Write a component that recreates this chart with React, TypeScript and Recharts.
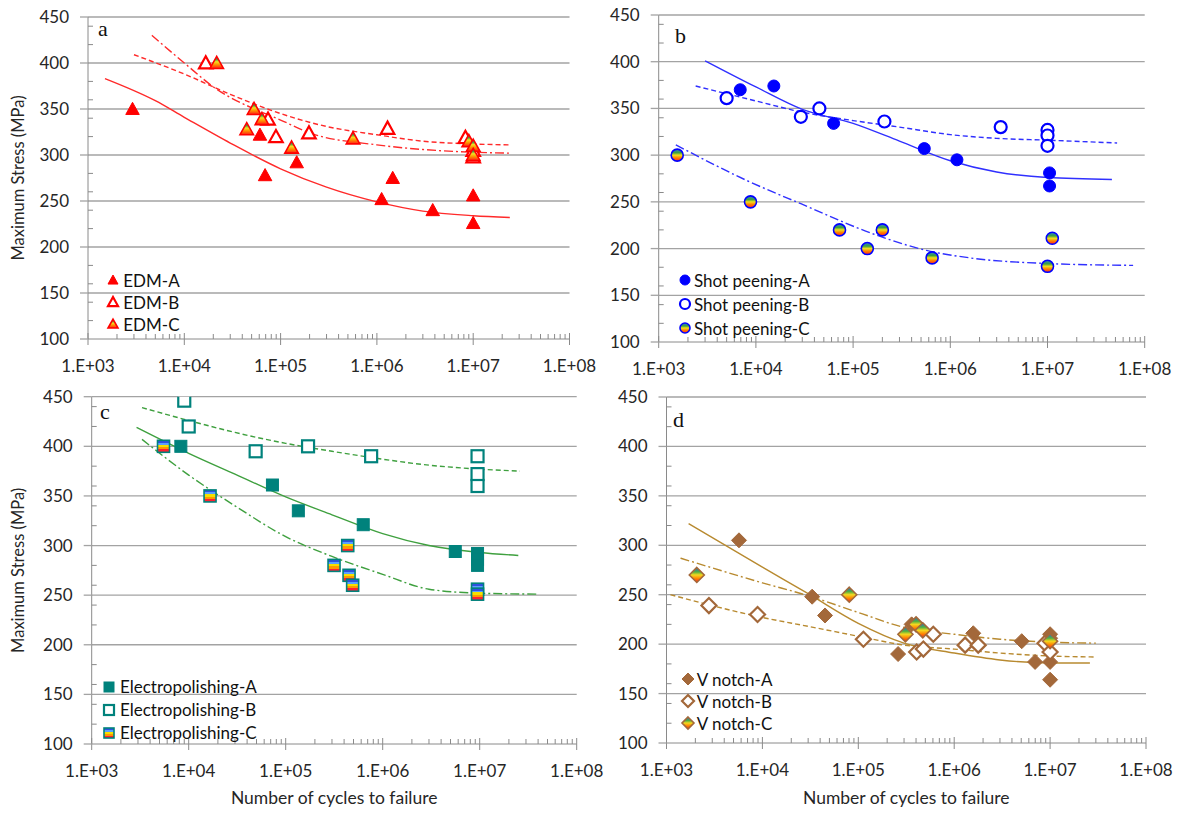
import React from 'react';
import { ComposedChart, XAxis, YAxis, Scatter, Line, ReferenceLine, Legend } from 'recharts';

type Pt = [number, number];

// ---- panel a : EDM ----
const edmA: Pt[] = [[2.9e3, 350], [6.1e4, 322], [6.9e4, 278], [1.47e5, 292], [1.12e6, 252], [1.46e6, 275], [3.8e6, 240], [1e7, 256], [1e7, 226]];
const edmB: Pt[] = [[1.67e4, 400], [7.4e4, 339], [8.95e4, 320], [1.97e5, 324], [1.29e6, 329], [8.3e6, 319], [1e7, 305], [1e7, 298]];
const edmC: Pt[] = [[2.17e4, 400], [4.45e4, 328], [5.3e4, 350], [6.4e4, 339], [1.3e5, 308], [5.65e5, 318], [9e6, 315], [1e7, 310], [1e7, 300]];
const edmAFit: Pt[] = [[1.5e3, 383], [5e3, 359], [1e4, 341], [3e4, 313], [1e5, 285], [3e5, 265], [1e6, 249], [3e6, 239], [1e7, 234], [2.4e7, 232]];
const edmBFit: Pt[] = [[3e3, 409], [1e4, 388], [3e4, 366], [1e5, 345], [3e5, 331], [1e6, 322], [3e6, 315], [1e7, 312], [2.4e7, 311]];
const edmCFit: Pt[] = [[4.6e3, 430], [1e4, 400], [2.2e4, 371], [5.6e4, 349], [1e5, 338], [2e5, 324], [1e6, 311], [3e6, 306], [1e7, 303], [2.4e7, 302]];

// ---- panel b : shot peening ----
const shotA: Pt[] = [[6.9e3, 370], [1.53e4, 374], [6.3e4, 334], [5.4e5, 307], [1.17e6, 295], [1.05e7, 281], [1.05e7, 267]];
const shotB: Pt[] = [[5e3, 361], [2.9e4, 341], [4.5e4, 350], [2.1e5, 336], [3.3e6, 330], [1e7, 327], [1e7, 321], [1e7, 310]];
const shotC: Pt[] = [[1.55e3, 300], [8.8e3, 250], [7.25e4, 220], [1.4e5, 200], [2e5, 220], [6.5e5, 190], [1e7, 181], [1.12e7, 211]];
const shotAFit: Pt[] = [[3e3, 401], [1e4, 373], [3e4, 349], [1e5, 334], [3e5, 315], [1e6, 294], [3e6, 282], [1e7, 276], [4.6e7, 274]];
const shotBFit: Pt[] = [[2.4e3, 374], [1e4, 358], [3e4, 346], [1e5, 337], [3e5, 330], [1e6, 322], [3e6, 318], [1e7, 316], [5.2e7, 313]];
const shotCFit: Pt[] = [[1.5e3, 311], [8e3, 273], [2.9e4, 248], [1.9e5, 213], [5.7e5, 198], [1.6e6, 190], [1e7, 184], [7.6e7, 182]];

// ---- panel c : electropolishing ----
const epA: Pt[] = [[8.3e3, 400], [7.3e4, 361], [1.35e5, 335], [6.3e5, 321], [5.6e6, 294], [9.5e6, 292], [9.5e6, 286], [9.5e6, 280]];
const epB: Pt[] = [[9e3, 446], [1e4, 420], [4.9e4, 395], [1.7e5, 400], [7.6e5, 390], [9.5e6, 390], [9.5e6, 372], [9.5e6, 360]];
const epC: Pt[] = [[5.5e3, 400], [1.66e4, 350], [3.15e5, 280], [4.36e5, 300], [4.5e5, 270], [4.9e5, 260], [9.5e6, 256], [9.5e6, 251]];
const epAFit: Pt[] = [[2.9e3, 419], [1e4, 393], [3e4, 372], [1e5, 349], [3e5, 331], [1e6, 312], [3e6, 300], [1e7, 293], [2.5e7, 290]];
const epBFit: Pt[] = [[3.3e3, 439], [1e4, 426], [3e4, 414], [1e5, 403], [3e5, 395], [1e6, 387], [3e6, 381], [1e7, 377], [2.6e7, 375]];
const epCFit: Pt[] = [[3.3e3, 407], [1e4, 371], [3e4, 340], [1e5, 309], [3e5, 289], [1e6, 271], [3e6, 256], [1e7, 252], [4e7, 251]];

// ---- panel d : V notch ----
const vA: Pt[] = [[5.7e3, 305], [3.3e4, 248], [4.5e4, 229], [2.6e5, 190], [3.6e5, 220], [1.58e6, 211], [5.06e6, 203], [6.97e6, 182], [1e7, 210], [1e7, 206], [1e7, 182], [1e7, 164]];
const vB: Pt[] = [[2.77e3, 239], [8.9e3, 230], [1.13e5, 205], [4.06e5, 192], [4.77e5, 195], [6.05e5, 210], [1.3e6, 199], [1.78e6, 199], [8.85e6, 201], [1e7, 192]];
const vC: Pt[] = [[2.07e3, 270], [8.05e4, 250], [3.1e5, 210], [4e5, 220], [4.7e5, 214], [1e7, 203]];
const vAFit: Pt[] = [[1.7e3, 322], [1e4, 278], [3e4, 251], [1e5, 221], [3e5, 201], [1e6, 191], [3e6, 184], [1e7, 181], [2.6e7, 181]];
const vBFit: Pt[] = [[1.1e3, 250], [1e4, 227], [3e4, 218], [1e5, 208], [3e5, 199], [1e6, 195], [3e6, 191], [1e7, 188], [3e7, 187]];
const vCFit: Pt[] = [[1.4e3, 287], [1e4, 262], [3e4, 249], [1e5, 232], [3e5, 217], [1e6, 210], [3e6, 205], [1e7, 202], [3e7, 201]];

const X_TICKS = [3, 4, 5, 6, 7].flatMap((e) => [1, 2, 3, 4, 5, 6, 7, 8, 9].map((m) => m * 10 ** e)).concat([1e8]);
const Y_TICKS = [100, 120, 140, 150, 160, 180, 200, 220, 240, 250, 260, 280, 300, 320, 340, 350, 360, 380, 400, 420, 440, 450];
const GRID = [150, 200, 250, 300, 350, 400, 450];

const FONT = 'Lato, "Open Sans", sans-serif';
const TXT = '#262626';
const AXIS = '#8a8a8a';
const GRIDC = '#a3a3a3';

const xy = (pts: Pt[]) => pts.map(([x, y]) => ({ x, y }));

type Kind = 'tri' | 'circ' | 'sq' | 'dia';
type Look = 'solid' | 'open' | 'rainbow';

const Mark = ({ cx, cy, kind, look, color, grad, size }: any) => {
  const fill = look === 'solid' ? color : look === 'open' ? '#fff' : `url(#${grad})`;
  const sw = look === 'open' ? 2.2 : look === 'rainbow' ? 1.6 : 1;
  const s = size;
  if (kind === 'tri') {
    const h = s * 0.9;
    return <polygon points={`${cx},${cy - h * 0.55} ${cx - s / 2},${cy + h * 0.45} ${cx + s / 2},${cy + h * 0.45}`} fill={fill} stroke={color} strokeWidth={sw} />;
  }
  if (kind === 'circ') return <circle cx={cx} cy={cy} r={s / 2} fill={fill} stroke={color} strokeWidth={sw} />;
  if (kind === 'sq') return <rect x={cx - s / 2} y={cy - s / 2} width={s} height={s} fill={fill} stroke={color} strokeWidth={sw} />;
  const r = s / 2 + 1;
  return <polygon points={`${cx},${cy - r} ${cx + r},${cy} ${cx},${cy + r} ${cx - r},${cy}`} fill={fill} stroke={color} strokeWidth={sw} />;
};

const XTick = (props: any) => {
  const { x, y, payload } = props;
  const e = Math.log10(payload.value);
  const major = Math.abs(e - Math.round(e)) < 1e-6;
  if (!major) return <line x1={x} x2={x} y1={y - 5} y2={y} stroke={AXIS} />;
  return (
    <g>
      <line x1={x} x2={x} y1={y - 6} y2={y + 6} stroke={AXIS} />
      <text x={x} y={y + 33} textAnchor="middle" fontSize={17} fontFamily={FONT} fill={TXT}>
        {`1.E+${String(Math.round(e)).padStart(2, '0')}`}
      </text>
    </g>
  );
};

const YTick = (props: any) => {
  const { x, y, payload } = props;
  const v = payload.value;
  if (v % 50 !== 0) return <line x1={x} x2={x + 5} y1={y} y2={y} stroke={AXIS} />;
  return (
    <g>
      <line x1={x - 8} x2={x} y1={y} y2={y} stroke={GRIDC} strokeWidth={1.3} />
      <text x={x - 19} y={y + 6} textAnchor="end" fontSize={17} fontFamily={FONT} fill={TXT}>{v}</text>
    </g>
  );
};

const RAINBOW: Record<string, [number, string][]> = {
  rbA: [[0, '#2a5fd0'], [0.25, '#3aa24a'], [0.45, '#f5e020'], [0.7, '#ff8a00'], [1, '#ff1a1a']],
  rbB: [[0, '#2f7fd0'], [0.3, '#3aa040'], [0.5, '#f0e020'], [0.72, '#ff8000'], [1, '#ff2020']],
  rbC: [[0, '#2f50e0'], [0.2, '#2f50e0'], [0.2, '#5aa0ff'], [0.36, '#5aa0ff'], [0.36, '#f5e000'], [0.56, '#f5e000'], [0.56, '#ff9a00'], [0.76, '#ff9a00'], [0.76, '#ff2030'], [1, '#ff2030']],
  rbD: [[0, '#3060d0'], [0.3, '#50b040'], [0.5, '#f5d820'], [0.75, '#ff8000'], [1, '#ff2020']],
};

const panels = [
  {
    id: 'a', left: 0, top: 0, w: 620, h: 400, mt: 17, mr: 50.5, yw: 88, xh: 61,
    letter: { ch: 'a', x: 98, y: 36 }, yTitle: true, xTitle: false,
    kind: 'tri' as Kind, color: '#ff0000', lineColor: '#ff2a2a', size: 13.5, lsize: 10, grad: 'rbA',
    names: ['EDM-A', 'EDM-B', 'EDM-C'], pts: [edmA, edmB, edmC], fits: [edmAFit, edmBFit, edmCFit],
    legend: { mx: 113.3, tx: 123.3, y0: 280, dy: 22 },
  },
  {
    id: 'b', left: 580, top: 0, w: 603, h: 400, mt: 15, mr: 38.3, yw: 78.7, xh: 58,
    letter: { ch: 'b', x: 675, y: 43 }, yTitle: false, xTitle: false,
    kind: 'circ' as Kind, color: '#0000ff', lineColor: '#3030ff', size: 12, lsize: 10, grad: 'rbB',
    names: ['Shot peening-A', 'Shot peening-B', 'Shot peening-C'], pts: [shotA, shotB, shotC], fits: [shotAFit, shotBFit, shotCFit],
    legend: { mx: 684.5, tx: 694, y0: 280, dy: 24 },
  },
  {
    id: 'c', left: 0, top: 380, w: 620, h: 436, mt: 16.7, mr: 43.3, yw: 91.7, xh: 72,
    letter: { ch: 'c', x: 100, y: 419 }, yTitle: true, xTitle: true,
    kind: 'sq' as Kind, color: '#00827c', lineColor: '#3fa03f', size: 12, lsize: 10, grad: 'rbC',
    names: ['Electropolishing-A', 'Electropolishing-B', 'Electropolishing-C'], pts: [epA, epB, epC], fits: [epAFit, epBFit, epCFit],
    legend: { mx: 109.3, tx: 120, y0: 686.7, dy: 23 },
  },
  {
    id: 'd', left: 580, top: 380, w: 603, h: 436, mt: 17, mr: 37, yw: 86.5, xh: 73,
    letter: { ch: 'd', x: 673, y: 427 }, yTitle: false, xTitle: true,
    kind: 'dia' as Kind, color: '#a3683a', lineColor: '#b88a30', size: 13, lsize: 10, grad: 'rbD',
    names: ['V notch-A', 'V notch-B', 'V notch-C'], pts: [vA, vB, vC], fits: [vAFit, vBFit, vCFit],
    legend: { mx: 688.3, tx: 696.7, y0: 679, dy: 22 },
  },
];

const LOOKS: Look[] = ['solid', 'open', 'rainbow'];
const DASH = [undefined, '5 3', '9 3 2 3'];

const LegendBox = ({ p }: any) => {
  const gap = p.legend.tx - (p.legend.mx + 7);
  return (
    <div style={{ fontFamily: FONT, fontSize: 17, color: '#111' }}>
      {p.names.map((n: string, i: number) => (
        <div key={n} style={{ height: p.legend.dy, display: 'flex', alignItems: 'center', whiteSpace: 'nowrap' }}>
          <svg width={14} height={14} style={{ flex: 'none', overflow: 'visible' }}>
            <Mark cx={7} cy={7} kind={p.kind} look={LOOKS[i]} color={p.color} grad={p.grad} size={p.lsize} />
          </svg>
          <span style={{ marginLeft: gap }}>{n}</span>
        </div>
      ))}
    </div>
  );
};

const Panel = ({ p }: any) => (
  <div style={{ position: 'absolute', left: p.left, top: p.top }}>
    <ComposedChart width={p.w} height={p.h} margin={{ top: p.mt, right: p.mr, left: 0, bottom: 0 }}>
      <defs>
        <linearGradient id={p.grad} x1="0" y1="0" x2="0" y2="1">
          {RAINBOW[p.grad].map(([o, c], i) => <stop key={i} offset={o} stopColor={c} />)}
        </linearGradient>
      </defs>
      <XAxis
        type="number" dataKey="x" scale="log" domain={[1e3, 1e8]} allowDataOverflow
        ticks={X_TICKS} interval={0} tick={<XTick />} tickLine={false} tickSize={0} tickMargin={0}
        axisLine={{ stroke: AXIS }} height={p.xh}
        label={p.xTitle ? { value: 'Number of cycles to failure', position: 'insideBottom', offset: 12, fontSize: 17.5, fontFamily: FONT, fill: TXT } : undefined}
      />
      <YAxis
        type="number" dataKey="y" domain={[100, 450]} allowDataOverflow
        ticks={Y_TICKS} interval={0} tick={<YTick />} tickLine={false} tickSize={0} tickMargin={0}
        axisLine={{ stroke: AXIS }} width={p.yw}
        label={p.yTitle ? { value: 'Maximum Stress (MPa)', angle: -90, position: 'insideLeft', offset: 18, fontSize: 16.5, fontFamily: FONT, fill: TXT, style: { textAnchor: 'middle' } } : undefined}
      />
      {GRID.map((v) => <ReferenceLine key={v} y={v} stroke={GRIDC} strokeWidth={1.3} />)}
      {p.fits.map((f: Pt[], i: number) => (
        <Line key={'f' + i} data={xy(f)} dataKey="y" type="monotone" dot={false} activeDot={false}
          stroke={p.lineColor} strokeWidth={1.4} strokeDasharray={DASH[i]} isAnimationActive={false} />
      ))}
      {p.pts.map((s: Pt[], i: number) => (
        <Scatter key={'s' + i} name={p.names[i]} data={xy(s)} isAnimationActive={false}
          shape={(sp: any) => <Mark cx={sp.cx} cy={sp.cy} kind={p.kind} look={LOOKS[i]} color={p.color} grad={p.grad} size={p.size} />} />
      ))}
      <text x={p.letter.x - p.left} y={p.letter.y - p.top} fontSize={22} fontFamily='"Liberation Serif", "Times New Roman", serif' fill="#111">{p.letter.ch}</text>
      <Legend
        layout="vertical" align="center" verticalAlign="middle"
        wrapperStyle={{ left: p.legend.mx - 7 - p.left, top: p.legend.y0 - p.legend.dy / 2 - p.top, width: 220, height: 'auto' }}
        content={() => <LegendBox p={p} />}
      />
    </ComposedChart>
  </div>
);

export default function App() {
  return (
    <div style={{ position: 'absolute', left: 0, top: 0, width: 1183, height: 816, background: '#fff', fontFamily: FONT }}>
      {panels.map((p) => <Panel key={p.id} p={p} />)}
    </div>
  );
}
